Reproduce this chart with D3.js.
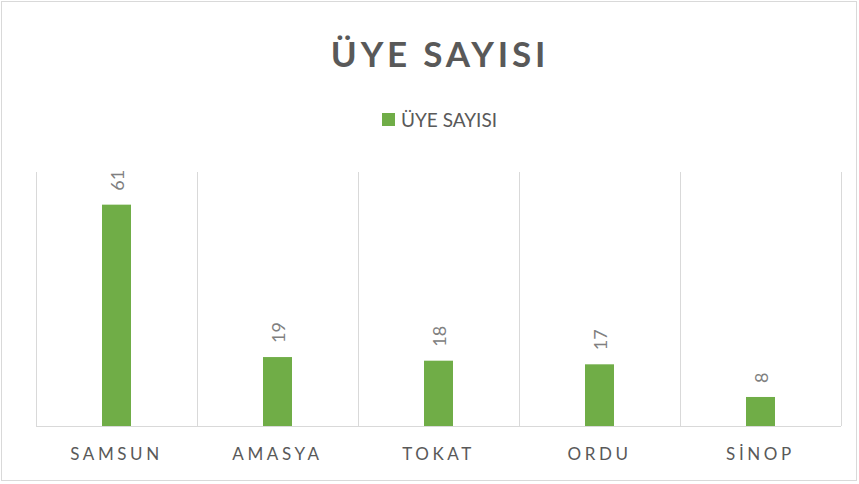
<!DOCTYPE html>
<html>
<head>
<meta charset="utf-8">
<script src="https://cdn.jsdelivr.net/npm/d3@7"></script>
<style>
  body { margin: 0; background: #fff; }
  text { font-family: Lato, "Open Sans", sans-serif; fill: #595959; }
</style>
</head>
<body>
<svg id="chart" width="859" height="484"></svg>
<script>
var cities = ['SAMSUN', 'AMASYA', 'TOKAT', 'ORDU', 'SİNOP']
var members = [61, 19, 18, 17, 8]
var seriesName = 'ÜYE SAYISI'

var svg = d3.select('#chart')
var plotLeft = 36, plotRight = 841, plotTop = 172, plotBottom = 426

// outer frame
svg.append('rect').attr('x', 1.5).attr('y', 1.5).attr('width', 855).attr('height', 479)
    .attr('fill', 'none').attr('stroke', '#d9d9d9')

var xScale = d3.scaleBand().domain(cities).range([plotLeft, plotRight]).paddingInner(0).paddingOuter(0)
var yScale = d3.scaleLinear().domain([0, 70]).range([plotBottom, plotTop])

// vertical dividers between categories
var edges = cities.map(c => xScale(c)).concat([plotRight])
svg.append('g').selectAll('line').data(edges).enter().append('line')
    .attr('x1', d => d + 0.5).attr('x2', d => d + 0.5)
    .attr('y1', plotTop).attr('y2', plotBottom)
    .attr('stroke', '#d9d9d9').attr('stroke-width', 1)

var barW = 29
svg.append('g').selectAll('rect').data(cities).enter().append('rect')
    .attr('x', (d, i) => xScale(d) + xScale.bandwidth() / 2 - barW / 2)
    .attr('y', (d, i) => yScale(members[i]))
    .attr('width', barW)
    .attr('height', (d, i) => plotBottom - yScale(members[i]))
    .attr('fill', '#70ad47')

// value labels (rotated)
svg.append('g').selectAll('text').data(cities).enter().append('text')
    .attr('transform', (d, i) => 'translate(' + (xScale(d) + xScale.bandwidth() / 2 + 7) + ',' + (yScale(members[i]) - 14) + ') rotate(-90)')
    .attr('text-anchor', 'start')
    .style('font-size', '18px')
    .style('fill', '#808080')
    .text((d, i) => members[i])

// x axis
var xAxis = d3.axisBottom(xScale).tickSize(0).tickPadding(21)
var xg = svg.append('g').attr('transform', 'translate(0,' + (plotBottom + 0.5) + ')').call(xAxis)
xg.select('.domain').attr('stroke', '#d9d9d9').attr('d', 'M' + plotLeft + ',0H' + plotRight)
xg.selectAll('text').style('font-size', '17px').style('letter-spacing', '3.6px')
    .style('font-family', 'Lato, "Open Sans", sans-serif').attr('fill', '#595959')

// title
svg.append('text').attr('x', 440).attr('y', 67).attr('text-anchor', 'middle')
    .style('font-size', '35px').style('font-weight', 'bold').style('letter-spacing', '3.8px')
    .text(seriesName)

// legend
var lg = svg.append('g').attr('transform', 'translate(382,113)')
lg.append('rect').attr('width', 13).attr('height', 13).attr('fill', '#70ad47')
lg.append('text').attr('x', 19).attr('y', 14).style('font-size', '19px').text(seriesName)
</script>
</body>
</html>
